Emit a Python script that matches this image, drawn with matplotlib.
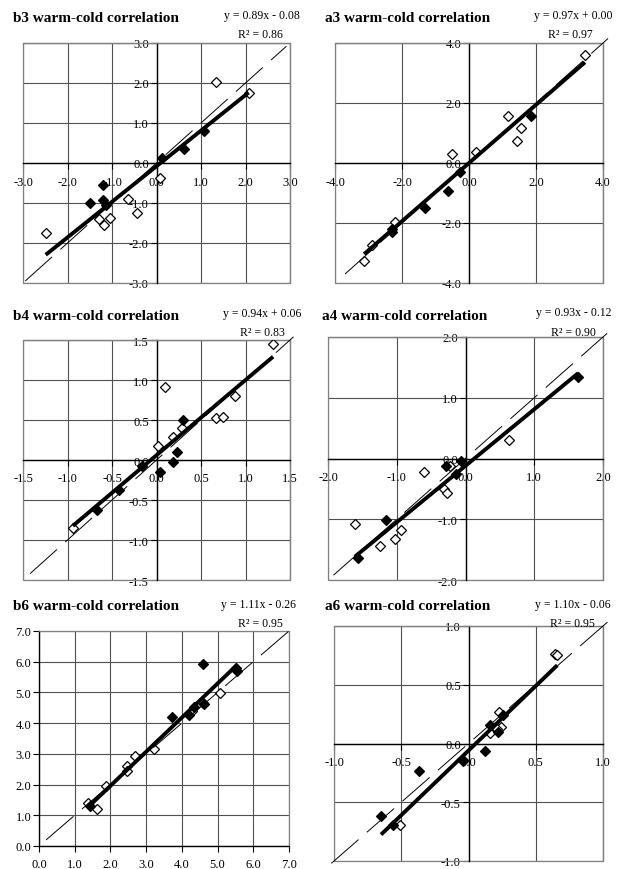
import numpy as np
import matplotlib
matplotlib.use("Agg")
import matplotlib.pyplot as plt
from matplotlib.patches import Rectangle

plt.rcParams['font.family'] = ['Liberation Serif', 'DejaVu Serif']
plt.rcParams['axes.unicode_minus'] = False
plt.rcParams['lines.scale_dashes'] = False

# ---- data: open = warm (white diamonds), fill = cold (black diamonds)
b3_open_x = [-2.49, 1.33, 2.07, 0.08, -0.63, -0.44, -1.29, -1.18, -1.05]
b3_open_y = [-1.76, 2.02, 1.75, -0.38, -0.89, -1.24, -1.40, -1.55, -1.38]
b3_fill_x = [-1.20, -1.49, -1.20, -1.14, 0.13, 0.61, 1.07]
b3_fill_y = [-0.54, -1.00, -0.92, -1.05, 0.12, 0.35, 0.80]

a3_open_x = [3.46, 1.15, 1.54, 1.44, 0.21, -0.52, -2.21, -2.91, -3.13]
a3_open_y = [3.60, 1.56, 1.16, 0.74, 0.38, 0.30, -1.96, -2.74, -3.26]
a3_fill_x = [1.85, -0.27, -0.62, -1.31, -2.31, -2.29]
a3_fill_y = [1.58, -0.29, -0.92, -1.51, -2.31, -2.20]

b4_open_x = [1.31, 0.10, 0.88, 0.67, 0.75, 0.29, 0.19, 0.02, -0.94]
b4_open_y = [1.45, 0.91, 0.80, 0.52, 0.54, 0.40, 0.29, 0.18, -0.85]
b4_fill_x = [0.30, 0.23, 0.18, 0.04, -0.16, -0.42, -0.67]
b4_fill_y = [0.50, 0.10, -0.03, -0.15, -0.08, -0.37, -0.62]

a4_open_x = [-1.61, -1.24, -1.03, -0.94, -0.61, -0.31, -0.27, -0.23, 0.63]
a4_open_y = [-1.08, -1.44, -1.32, -1.17, -0.22, -0.51, -0.56, -0.13, 0.31]
a4_fill_x = [-1.57, -1.15, -0.28, -0.14, -0.06, 1.64]
a4_fill_y = [-1.63, -1.01, -0.13, -0.26, -0.04, 1.34]

b6_open_x = [1.36, 1.61, 1.87, 2.45, 2.47, 2.68, 3.21, 4.27, 4.59, 5.08]
b6_open_y = [1.41, 1.21, 1.94, 2.61, 2.44, 2.93, 3.17, 4.40, 4.65, 4.97]
b6_fill_x = [1.42, 3.73, 4.19, 4.33, 4.59, 4.61, 5.51, 5.55]
b6_fill_y = [1.30, 4.20, 4.27, 4.53, 5.92, 4.61, 5.81, 5.70]

a6_open_x = [0.645, 0.66, 0.23, 0.24, 0.21, 0.16, -0.04, -0.51]
a6_open_y = [0.76, 0.75, 0.27, 0.14, 0.12, 0.09, -0.15, -0.69]
a6_fill_x = [0.16, 0.22, 0.26, 0.12, -0.04, -0.37, -0.65, -0.56]
a6_fill_y = [0.16, 0.10, 0.24, -0.06, -0.14, -0.23, -0.62, -0.69]

names = ["b3", "a3", "b4", "a4", "b6", "a6"]
slopes = [0.89, 0.97, 0.94, 0.93, 1.11, 1.10]
intercepts = [-0.08, 0.00, 0.06, -0.12, -0.26, -0.06]
r2 = [0.86, 0.97, 0.83, 0.90, 0.95, 0.95]
limits = [(-3, 3), (-4, 4), (-1.5, 1.5), (-2, 2), (0, 7), (-1, 1)]
steps = [1.0, 2.0, 0.5, 1.0, 1.0, 0.5]
diag_range = [(-2.95, 2.92), (-3.7, 4.15), (-1.42, 1.54), (-1.92, 2.06), (0.2, 7.0), (-1.02, 1.04)]

series = {
    "b3": (b3_open_x, b3_open_y, b3_fill_x, b3_fill_y),
    "a3": (a3_open_x, a3_open_y, a3_fill_x, a3_fill_y),
    "b4": (b4_open_x, b4_open_y, b4_fill_x, b4_fill_y),
    "a4": (a4_open_x, a4_open_y, a4_fill_x, a4_fill_y),
    "b6": (b6_open_x, b6_open_y, b6_fill_x, b6_fill_y),
    "a6": (a6_open_x, a6_open_y, a6_fill_x, a6_fill_y),
}

# ---- layout in pixels (left, right, top, bottom) of each plot area
W, H = 619, 870
boxes = [(23, 290, 44, 284), (335, 603, 44, 284),
         (23, 290, 341, 581), (328, 603, 338, 581),
         (39, 289, 632, 847), (334, 603, 627, 862)]
# title x, title y, eq right x, eq y, r2 right x, r2 y
texts_pos = [(13, 18, 300, 16, 283, 35), (325, 18, 612, 16, 593, 35),
             (13, 317, 301, 314, 285, 333), (322, 317, 611, 313, 596, 333),
             (13, 607, 296, 605, 283, 624), (325, 607, 611, 605, 595, 624)]

fig = plt.figure(figsize=(W / 100, H / 100), dpi=100)

for i, name in enumerate(names):
    L, R, T, B = boxes[i]
    ax = fig.add_axes([L / W, 1 - B / H, (R - L) / W, (B - T) / H])
    lo, hi = limits[i]
    ox, oy, fx, fy = series[name]

    ax.plot(ox, oy, linestyle='none', marker='D', ms=5.3, mfc='white', mec='black', mew=0.9, zorder=3)
    ax.plot(fx, fy, linestyle='none', marker='D', ms=5.3, mfc='black', mec='black', mew=0.9, zorder=3)

    # trendline over the range of the data
    allx = np.array(ox + fx)
    xs = np.array([allx.min(), allx.max()])
    ax.plot(xs, slopes[i] * xs + intercepts[i], color='black', lw=2.8, solid_capstyle='butt', zorder=4)

    # 1:1 line
    d0, d1 = diag_range[i]
    ax.plot([d0, d1], [d0, d1], color='black', lw=0.7, dashes=(26, 8), zorder=5, clip_on=False)

    ax.set_xlim(lo, hi)
    ax.set_ylim(lo, hi)
    ticks = np.arange(lo, hi + steps[i] / 2, steps[i])
    ax.set_xticks(ticks)
    ax.set_yticks(ticks)
    ax.set_xticklabels(["%.1f" % t for t in ticks])
    ax.set_yticklabels(["%.1f" % t for t in ticks])
    ax.tick_params(labelsize=9, direction='out', length=4, width=0.8, color='black', pad=1.5)
    ax.tick_params(axis='x', pad=5)

    ax.grid(True, color='#505050', lw=0.8)
    ax.set_axisbelow(True)

    for s in ['top', 'right']:
        ax.spines[s].set_color('#808080')
        ax.spines[s].set_linewidth(0.9)
    for s in ['left', 'bottom']:
        ax.spines[s].set_color('black')
        ax.spines[s].set_linewidth(1.0)
        ax.spines[s].set_zorder(2.5)
    if lo < 0:
        ax.spines['left'].set_position(('data', 0))
        ax.spines['bottom'].set_position(('data', 0))
        ax.add_patch(Rectangle((0, 0), 1, 1, transform=ax.transAxes, fill=False,
                               ec='#808080', lw=0.9, clip_on=False, zorder=2))

    tx, ty, ex, ey, rx, ry = texts_pos[i]
    fig.text(tx / W, 1 - ty / H, name + " warm-cold correlation", fontsize=11,
             fontweight='bold', ha='left', va='center')
    sign = "-" if intercepts[i] < 0 else "+"
    fig.text(ex / W, 1 - ey / H, "y = %.2fx %s %.2f" % (slopes[i], sign, abs(intercepts[i])),
             fontsize=8.5, ha='right', va='center')
    fig.text(rx / W, 1 - ry / H, "R\u00b2 = %.2f" % r2[i], fontsize=8.5, ha='right', va='center')

fig.savefig("out.png", dpi=100)
